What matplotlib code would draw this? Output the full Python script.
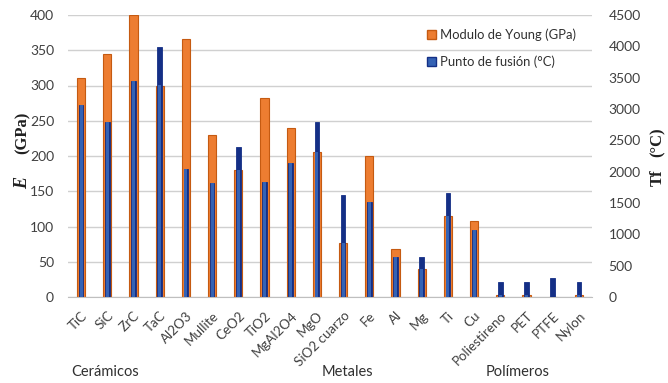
import matplotlib
matplotlib.use("Agg")
import matplotlib.pyplot as plt
import numpy as np
from matplotlib.patches import Patch

materials = ["TiC", "SiC", "ZrC", "TaC", "Al2O3", "Mullite", "CeO2", "TiO2", "MgAl2O4", "MgO",
             "SiO2 cuarzo", "Fe", "Al", "Mg", "Ti", "Cu",
             "Poliestireno", "PET", "PTFE", "Nylon"]
young_gpa = [310, 345, 400, 300, 366, 230, 180, 282, 240, 206,
             77, 200, 68, 40, 115, 108,
             3, 3, 0.5, 3]
melting_c = [3065, 2795, 3445, 3990, 2045, 1820, 2395, 1835, 2135, 2800,
             1630, 1520, 645, 645, 1655, 1070,
             245, 245, 310, 245]
groups = ["Cerámicos", "Metales", "Polímeros"]
group_x = [105, 347, 518]  # pixel centres of the group captions

W, H = 668, 383
fig = plt.figure(figsize=(W / 100, H / 100), dpi=100)
plt.rcParams["font.family"] = ["Lato", "DejaVu Sans"]

left, right, top, bottom = 68, 592, 15, 297
ax = fig.add_axes([left / W, 1 - bottom / H, (right - left) / W, (bottom - top) / H])
ax2 = ax.twinx()

x = np.arange(len(materials))
orange = "#ED7D31"
orange_edge = "#C55A11"
navy = "#142F86"
mid_blue = "#3462B4"

E_MAX, T_MAX = 400, 4500

ax.bar(x, young_gpa, width=0.32, color=orange, edgecolor=orange_edge, linewidth=0.8, zorder=2)

# melting point bars: dark where they rise above the modulus bar, lighter where overlapping
ax2.bar(x, melting_c, width=0.18, color=navy, edgecolor=navy, linewidth=0.6, zorder=3)
overlap = np.minimum(np.array(melting_c, float), np.array(young_gpa, float) * T_MAX / E_MAX)
ax2.bar(x, overlap, width=0.11, color=mid_blue, linewidth=0, zorder=4)

ax.set_xlim(-0.5, len(materials) - 0.5)
ax.set_ylim(0, E_MAX)
ax2.set_ylim(0, T_MAX)
ax.set_yticks(np.arange(0, 401, 50))
ax2.set_yticks(np.arange(0, 4501, 500))

ax.yaxis.grid(True, color="#D0D0D0", linewidth=1.0, zorder=0)
ax.set_axisbelow(True)

for a in (ax, ax2):
    for s in a.spines.values():
        s.set_visible(False)
    a.tick_params(length=0, labelsize=10, colors="#404040")
ax.spines["bottom"].set_visible(True)
ax.spines["bottom"].set_color("#BFBFBF")
ax.tick_params(axis="y", pad=10)
ax2.tick_params(axis="y", pad=12)

ax.set_xticks(x)
ax.set_xticklabels(materials, rotation=45, ha="right", rotation_mode="anchor", fontsize=9.6, color="#404040")
ax.tick_params(axis="x", pad=9)

for g, gx in zip(groups, group_x):
    fig.text(gx / W, 1 - 372 / H, g, ha="center", va="center", fontsize=10.5, color="#303030")

# axis titles
fig.text(23 / W, 1 - 183 / H, "E", rotation=90, ha="center", va="center",
         family="Liberation Serif", style="italic", weight="bold", fontsize=13, color="#202020")
fig.text(23 / W, 1 - 133 / H, "(GPa)", rotation=90, ha="center", va="center",
         family="Liberation Serif", weight="bold", fontsize=12, color="#202020")
fig.text(658 / W, 1 - 178 / H, "Tf", rotation=90, ha="center", va="center",
         family="Liberation Serif", weight="bold", fontsize=12, color="#202020")
fig.text(658 / W, 1 - 142 / H, "(°C)", rotation=90, ha="center", va="center",
         family="Liberation Serif", weight="bold", fontsize=12, color="#202020")

handles = [Patch(facecolor=orange, edgecolor=orange_edge, label="Modulo de Young (GPa)"),
           Patch(facecolor=mid_blue, edgecolor=navy, label="Punto de fusión (°C)")]
ax2.legend(handles=handles, loc="upper left", bbox_to_anchor=((422 - left) / (right - left), 1.0 - (23 - top) / (bottom - top)),
           frameon=False, fontsize=9.4, handlelength=0.7, handleheight=0.7, handletextpad=0.3,
           labelspacing=1.1, borderaxespad=0, labelcolor="#303030")

fig.savefig("out.png", dpi=100)
